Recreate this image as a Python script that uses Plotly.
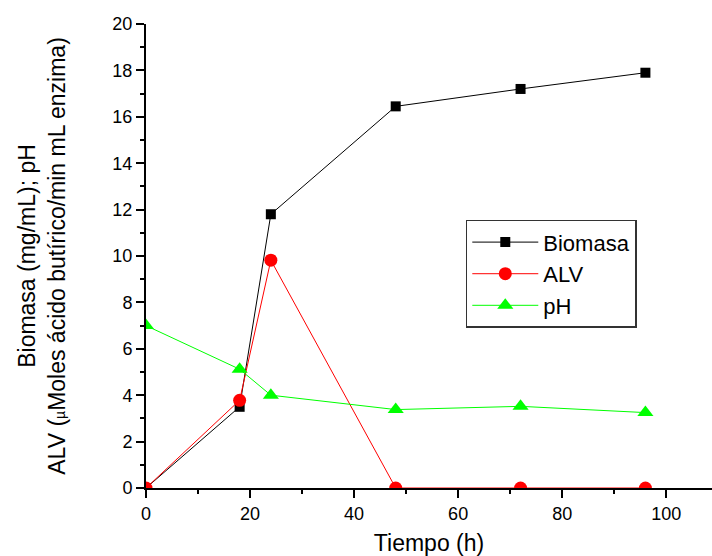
import plotly.graph_objects as go

tiempo = [0, 18, 24, 48, 72, 96]
biomasa = [0, 3.5, 11.8, 16.45, 17.2, 17.9]
alv = [0, 3.78, 9.82, 0, 0, 0]
ph = [7.0, 5.12, 4.0, 3.38, 3.52, 3.25]

FONT = "Liberation Sans, Arial, sans-serif"

fig = go.Figure()
fig.add_trace(go.Scatter(x=tiempo, y=biomasa, name="Biomasa", mode="lines+markers",
                         line=dict(color="black", width=1),
                         marker=dict(symbol="square", size=10, color="black")))
fig.add_trace(go.Scatter(x=tiempo, y=alv, name="ALV", mode="lines+markers",
                         line=dict(color="#FF0000", width=1),
                         marker=dict(symbol="circle", size=13, color="#FF0000")))
fig.add_trace(go.Scatter(x=tiempo, y=ph, name="pH", mode="lines+markers",
                         line=dict(color="#00FF00", width=1),
                         marker=dict(symbol="triangle-up", size=14, color="#00FF00")))

fig.update_layout(
    width=712, height=556,
    margin=dict(l=146, r=0, t=24, b=68),
    paper_bgcolor="white", plot_bgcolor="white",
    font=dict(family=FONT, color="black", size=18),
    legend=dict(x=0.565, y=0.578, xanchor="left", yanchor="top",
                bordercolor="#333333", borderwidth=1.5, bgcolor="white",
                itemwidth=66,
                font=dict(size=22, family=FONT), tracegroupgap=0),
    xaxis=dict(range=[0, 108.8], showgrid=False, zeroline=False,
               showline=True, linecolor="black", linewidth=2,
               ticks="outside", ticklen=8, tickwidth=2, tickcolor="black",
               tick0=0, dtick=20,
               minor=dict(ticks="outside", ticklen=4, tickwidth=2, tickcolor="black", dtick=10),
               title=dict(text="Tiempo (h)", font=dict(size=23), standoff=14)),
    yaxis=dict(range=[0, 20], showgrid=False, zeroline=False,
               showline=True, linecolor="black", linewidth=2,
               ticks="outside", ticklen=8, tickwidth=2, tickcolor="black",
               tick0=0, dtick=2,
               minor=dict(ticks="outside", ticklen=4, tickwidth=2, tickcolor="black", dtick=1),
               title=dict(text="Biomasa (mg/mL); pH<br>ALV (<span style='font-size:14px'>µ</span>Moles ácido butírico/min mL enzima)",
                          font=dict(size=23), standoff=40)),
)

fig.write_html("out.html")
